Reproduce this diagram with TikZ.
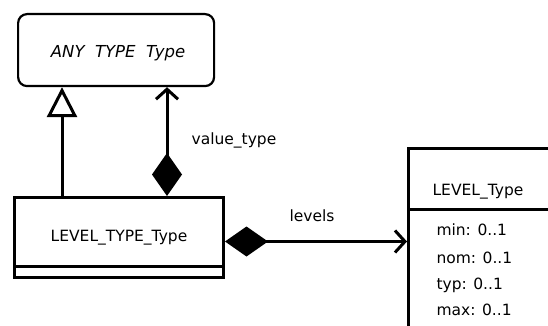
\documentclass[tikz,border=0pt]{standalone}
\usepackage{fontspec}
\setmainfont{DejaVu Sans}
\usetikzlibrary{arrows.meta}
\begin{document}
\begin{tikzpicture}[x=1pt,y=-1pt,line width=3pt,
  cls/.style={draw,rectangle,inner sep=0pt,anchor=north west},
  txt/.style={font=\fontsize{15.5}{18}\selectfont,inner sep=0pt},
  gen/.style={-{Triangle[open,width=30pt,length=30pt,line width=3pt]}},
  comp/.style={{Diamond[width=30pt,length=43pt]}-{Straight Barb[length=10pt,width=22pt,line width=3pt]}}]
\useasboundingbox (0,0) rectangle (548,326);
\clip (0,0) rectangle (548,326);
% classes
\node[cls,rounded corners=9pt,line width=2.2pt,minimum width=196pt,minimum height=72pt] (any) at (17,13) {};
\node[txt,font=\fontsize{16.5}{19}\selectfont\itshape] (anyt) at (118,53) {ANY\ \ TYPE\ \ Type};
\node[cls,minimum width=209pt,minimum height=80pt] (level) at (13,196) {};
\node[txt] (levelt) at (119,238) {LEVEL\_TYPE\_Type};
\path (level.south west) ++(0,-13) coordinate (sepL);
\path (level.south east) ++(0,-13) coordinate (sepR);
\draw (sepL) -- (sepR);
\node[cls,minimum width=148pt,minimum height=200pt] (ltype) at (407,147) {};
\node[txt] (ltypet) at (478,192) {LEVEL\_Type};
\path (ltype.north west) ++(0,62) coordinate (hsL);
\path (ltype.north east) ++(0,62) coordinate (hsR);
\draw (hsL) -- (hsR);
\node[txt,anchor=west] (a1) at (435,230) {min: 0..1};
\node[txt,anchor=west] (a2) at (435,258) {nom: 0..1};
\node[txt,anchor=west] (a3) at (435,285) {typ: 0..1};
\node[txt,anchor=west] (a4) at (435,310) {max: 0..1};
% connectors
\path (level.north west) ++(49,0) coordinate (genS);
\draw[gen] (genS) -- (genS |- any.south);
\path (level.north west) ++(154,0) coordinate (vtS);
\draw[comp] (vtS) -- (vtS |- any.south);
\path (level.east) ++(0,4) coordinate (lvS);
\draw[comp] (lvS) -- (lvS -| ltype.west);
% labels
\node[txt] (vtl) at (234,140) {value\_type};
\node[txt] (lvl) at (312,216) {levels};
\end{tikzpicture}
\end{document}
